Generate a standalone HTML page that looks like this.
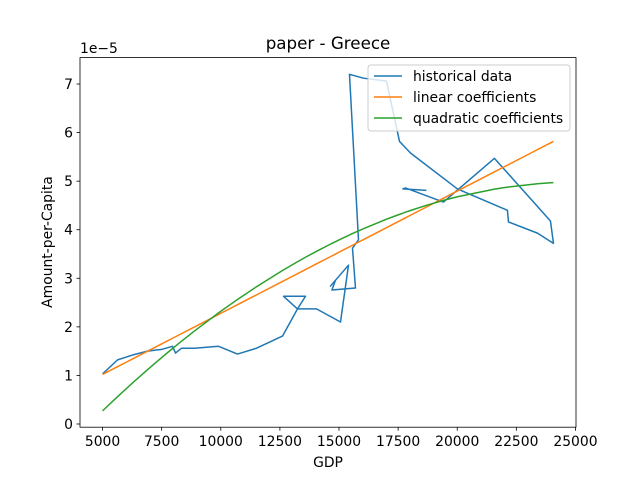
<!DOCTYPE html>
<html><head><meta charset="utf-8"><style>
body{margin:0;background:#fff}
svg text{font-family:"DejaVu Sans","Liberation Sans",sans-serif;fill:#000}
</style></head><body>
<svg id="chart" width="640" height="480" xmlns="http://www.w3.org/2000/svg">
<rect width="640" height="480" fill="#fff"/>
<g id="plot"></g>
<rect x="80" y="57.6" width="496" height="369.6" fill="none" stroke="#000" stroke-width="0.8"/>
<text x="328" y="49" font-size="16.7" text-anchor="middle">paper - Greece</text>
<text x="328" y="467" font-size="13.9" text-anchor="middle">GDP</text>
<text x="52" y="242" font-size="13.9" text-anchor="middle" transform="rotate(-90 52 242)">Amount-per-Capita</text>
<text x="80" y="53" font-size="13.9">1e−5</text>
<g id="ticks"></g>
<g>
<rect x="368" y="65" width="202" height="66" rx="3" fill="#fff" fill-opacity="0.8" stroke="#ccc"/>
<line x1="374" y1="76" x2="402" y2="76" stroke="#1f77b4" stroke-width="1.5"/>
<text x="413" y="81" font-size="13.9">historical data</text>
<line x1="374" y1="97" x2="402" y2="97" stroke="#ff7f0e" stroke-width="1.5"/>
<text x="413" y="102" font-size="13.9">linear coefficients</text>
<line x1="374" y1="118" x2="402" y2="118" stroke="#2ca02c" stroke-width="1.5"/>
<text x="413" y="123" font-size="13.9">quadratic coefficients</text>
</g>
</svg>
<script>
const gdp=[5000,5634,6268,6903,7537,7960,8086,8340,8890,9905,10708,11511,12610,13245,13583,12653,13245,14048,15063,15401,14640,14851,14700,15697,15570,15824,15443,16035,17008,17557,18022,20009,22123,22166,23392,24069,23942,21574,19417,17811,17700,18699];
const amount=[1.03,1.32,1.42,1.50,1.54,1.60,1.46,1.56,1.56,1.60,1.44,1.56,1.81,2.37,2.63,2.63,2.37,2.37,2.10,3.27,2.84,2.96,2.76,2.80,3.62,3.79,7.20,7.12,7.06,5.82,5.58,4.84,4.40,4.16,3.93,3.72,4.18,5.47,4.57,4.86,4.84,4.81];
const linCoef=[1.02,2.517e-4];
const quadCoef=[0.27,4.684e-4,-1.164e-8];
const xTicks=[5000,7500,10000,12500,15000,17500,20000,22500,25000];
const yTicks=[0,1,2,3,4,5,6,7];
const X0=4046.5,X1=25022.5,Y0=-0.066,Y1=7.544;
const sx=v=>80+(v-X0)/(X1-X0)*496;
const sy=v=>427.2-(v-Y0)/(Y1-Y0)*369.6;
const NS="http://www.w3.org/2000/svg";
const plot=document.getElementById('plot'),ticks=document.getElementById('ticks');
function mk(tag,attrs,parent){const e=document.createElementNS(NS,tag);for(const k in attrs)e.setAttribute(k,attrs[k]);parent.appendChild(e);return e;}
xTicks.forEach(t=>{const x=sx(t);
 const l=mk('line',{x1:x,y1:427.2,x2:x,y2:430.7,stroke:'#000','stroke-width':0.8},ticks);
 
 
 const tx=mk('text',{x:x,y:446,'font-size':13.9,'text-anchor':'middle'},ticks);tx.textContent=t;
 
 });
yTicks.forEach(t=>{const y=sy(t);
 const l=mk('line',{x1:76.5,y1:y,x2:80,y2:y,stroke:'#000','stroke-width':0.8},ticks);
 
 
 const tx=mk('text',{x:73,y:y+5,'font-size':13.9,'text-anchor':'end'},ticks);tx.textContent=t;
 
 });
const hist=mk('polyline',{points:gdp.map((g,i)=>sx(g)+','+sy(amount[i])).join(' '),fill:'none',stroke:'#1f77b4','stroke-width':1.5,'stroke-linejoin':'round'},plot);


const xs=[...gdp].sort((a,b)=>a-b);
const lin=mk('polyline',{points:xs.map(g=>sx(g)+','+sy(linCoef[0]+linCoef[1]*(g-5000))).join(' '),fill:'none',stroke:'#ff7f0e','stroke-width':1.5},plot);


const quad=mk('polyline',{points:xs.map(g=>{const t=g-5000;return sx(g)+','+sy(quadCoef[0]+quadCoef[1]*t+quadCoef[2]*t*t);}).join(' '),fill:'none',stroke:'#2ca02c','stroke-width':1.5},plot);


</script>
</body></html>
